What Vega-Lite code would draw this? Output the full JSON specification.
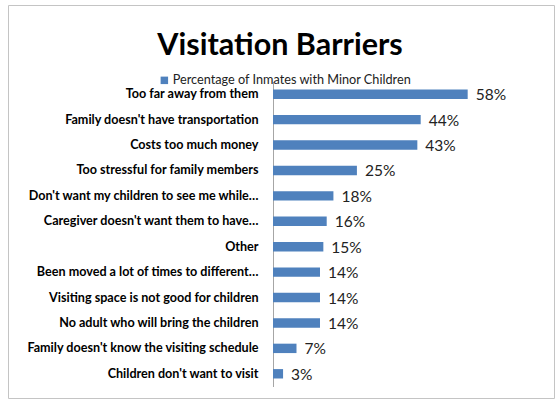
{
  "$schema": "https://vega.github.io/schema/vega-lite/v6.json",
  "autosize": "none",
  "width": 546,
  "height": 393,
  "padding": {"left": 8, "top": 5, "right": 6, "bottom": 6},
  "background": "white",
  "title": {
    "text": "Visitation Barriers",
    "anchor": "middle",
    "frame": "group",
    "orient": "top",
    "baseline": "alphabetic",
    "offset": -49,
    "dx": -1,
    "dy": 31,
    "font": "Lato",
    "fontSize": 30.5,
    "fontWeight": "bold",
    "color": "black"
  },
  "data": {
    "values": [
      {"reason": "Too far away from them", "pct": 0.58},
      {"reason": "Family doesn't have transportation", "pct": 0.44},
      {"reason": "Costs too much money", "pct": 0.43},
      {"reason": "Too stressful for family members", "pct": 0.25},
      {"reason": "Don't want my children to see me while…", "pct": 0.18},
      {"reason": "Caregiver doesn't want them to have…", "pct": 0.16},
      {"reason": "Other", "pct": 0.15},
      {"reason": "Been moved a lot of times to different…", "pct": 0.14},
      {"reason": "Visiting space is not good for children", "pct": 0.14},
      {"reason": "No adult who will bring the children", "pct": 0.14},
      {"reason": "Family doesn't know the visiting schedule", "pct": 0.07},
      {"reason": "Children don't want to visit", "pct": 0.03}
    ]
  },
  "encoding": {
    "y": {
      "field": "reason",
      "type": "nominal",
      "sort": null,
      "title": null,
      "scale": {"range": [76.5, 381.5], "paddingInner": 0.63, "paddingOuter": 0.315},
      "axis": {
        "orient": "left",
        "offset": -265,
        "ticks": false,
        "labelPadding": 15,
        "labelLimit": 320,
        "labelFont": "Lato",
        "labelFontSize": 12.6,
        "labelFontWeight": "bold",
        "labelColor": "black",
        "domainColor": "#a6a6a6",
        "grid": false
      }
    },
    "x": {
      "field": "pct",
      "type": "quantitative",
      "scale": {"domain": [0, 0.6], "range": [265, 466.4]},
      "axis": null
    }
  },
  "layer": [
    {
      "mark": {"type": "bar"},
      "encoding": {
        "color": {
          "datum": "Percentage of Inmates with Minor Children",
          "type": "nominal",
          "scale": {"range": ["#4f81bd"]},
          "legend": {
            "title": null,
            "orient": "none",
            "legendX": 150,
            "legendY": 69,
            "padding": 0,
            "symbolType": "square",
            "symbolSize": 56,
            "symbolStrokeWidth": 0,
            "labelFont": "Lato",
            "labelFontSize": 12.7,
            "labelColor": "#222",
            "labelOffset": 2,
            "labelLimit": 400
          }
        }
      }
    },
    {
      "mark": {"type": "text", "align": "left", "baseline": "middle", "dx": 8, "dy": 1, "font": "Lato", "fontSize": 15.5, "color": "#222"},
      "encoding": {
        "text": {"field": "pct", "type": "quantitative", "format": ".0%"}
      }
    }
  ],
  "config": {
    "view": {"stroke": "#c4c4c4", "strokeWidth": 1}
  }
}
